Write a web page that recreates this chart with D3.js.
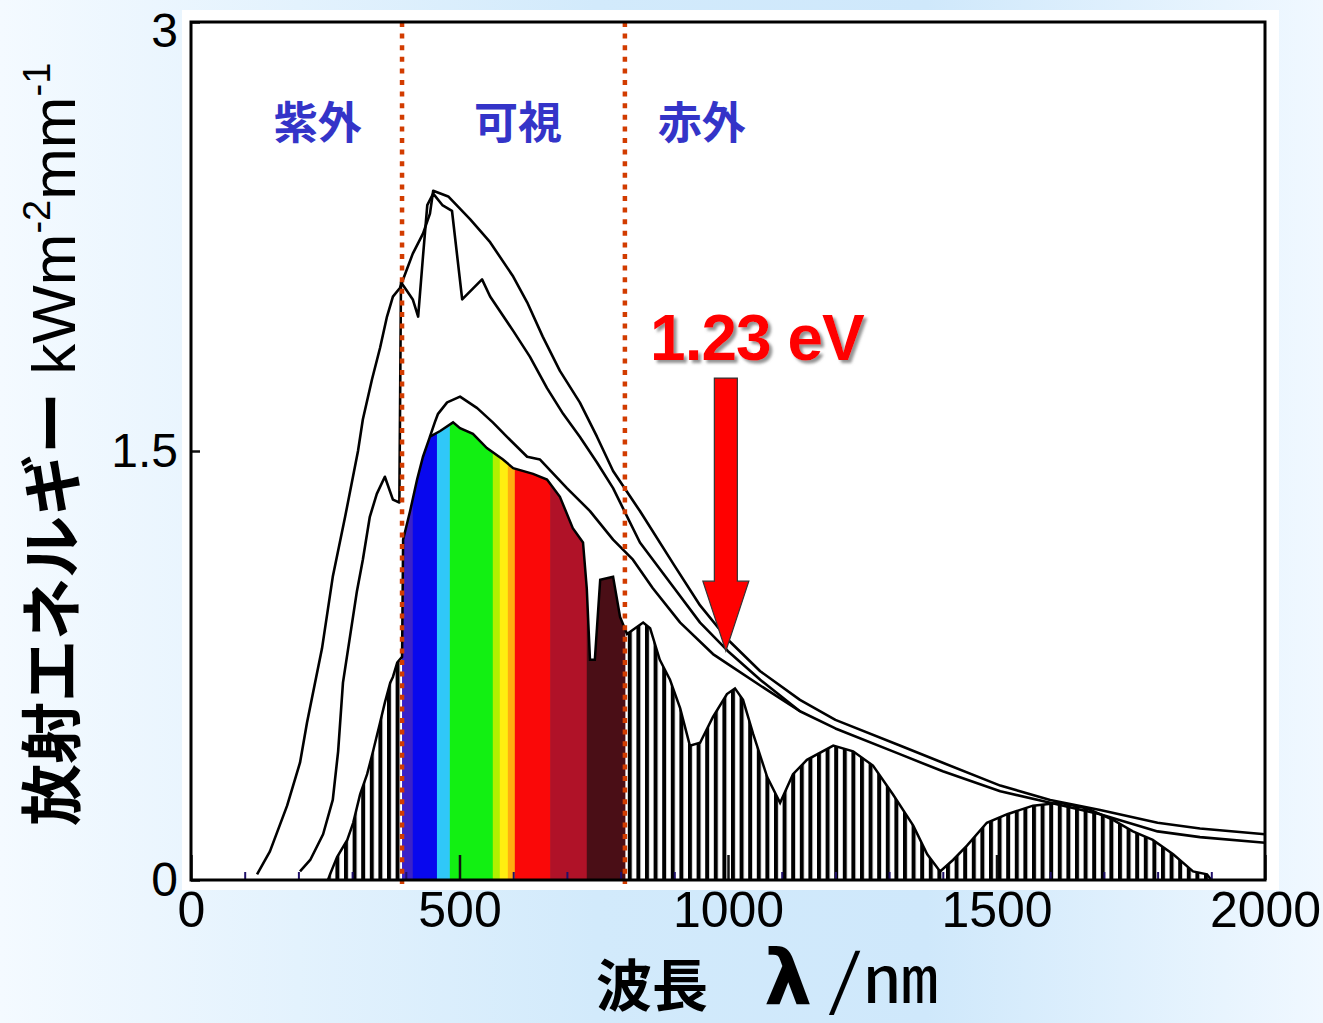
<!DOCTYPE html>
<html>
<head>
<meta charset="utf-8">
<script src="https://cdn.jsdelivr.net/npm/d3@7"></script>
<style>
  body { margin: 0; }
  svg { display: block; }
</style>
</head>
<body>
<div id="chart"></div>
<script>
// values: [wavelength nm, energy kW m-2 mm-1]
var xTicks = [0, 500, 1000, 1500, 2000];
var yTicks = [0, 1.5, 3];
var minorTicks = [100, 200, 300, 400, 600, 700, 800, 900, 1100, 1200, 1300, 1400, 1600, 1700, 1800, 1900];

// outer smooth curve
var outerCurve = [[123,0.02],[147,0.10],[179,0.26],[203,0.41],[216,0.55],[231,0.69],[244,0.81],[264,1.06],
  [287,1.27],[311,1.50],[320,1.61],[337,1.75],[352,1.86],[365,1.97],[376,2.04],[389,2.07],[413,2.19],
  [432,2.26],[445,2.33],[451,2.41],[479,2.39],[520,2.31],[557,2.23],[600,2.11],[626,2.02],[655,1.90],
  [687,1.78],[724,1.67],[756,1.55],[786,1.43],[836,1.29],[900,1.10],[948,0.96],[1000,0.84],[1060,0.73],
  [1134,0.63],[1200,0.56],[1320,0.47],[1400,0.41],[1507,0.33],[1600,0.28],[1693,0.245],[1800,0.20],
  [1879,0.18],[2000,0.16]];

// jagged curve (outside the atmosphere)
var middleCurve = [[203,0.03],[222,0.07],[246,0.16],[264,0.28],[274,0.45],[283,0.69],[296,0.85],[309,1.01],
  [320,1.12],[333,1.27],[346,1.35],[361,1.41],[376,1.33],[388,1.32],[391,2.09],[402,2.06],[413,2.03],
  [423,1.97],[432,2.18],[440,2.36],[451,2.40],[468,2.36],[486,2.34],[505,2.03],[542,2.10],[557,2.04],
  [600,1.92],[631,1.83],[663,1.72],[693,1.63],[724,1.55],[756,1.46],[786,1.37],[836,1.18],[900,1.02],
  [948,0.90],[1000,0.80],[1060,0.70],[1134,0.59],[1200,0.53],[1320,0.44],[1400,0.38],[1507,0.31],
  [1600,0.27],[1693,0.23],[1800,0.17],[1879,0.15],[2000,0.13]];

// arch just above the coloured band
var archCurve = [[445,1.55],[454,1.60],[460,1.63],[477,1.67],[501,1.69],[533,1.65],[562,1.60],[588,1.55],
  [626,1.48],[650,1.47],[700,1.37],[743,1.29],[786,1.19],[823,1.12],[860,1.02],[911,0.90],[972,0.79],
  [1000,0.755],[1060,0.68],[1134,0.59]];

// spectrum at the ground (filled)
var spectrumFill = [[255,0],[259,0.02],[272,0.08],[291,0.14],[302,0.20],[315,0.30],[328,0.37],[339,0.45],
  [352,0.55],[361,0.62],[371,0.69],[376,0.71],[384,0.76],[393,0.78],[395,1.19],[408,1.29],[421,1.40],
  [432,1.48],[445,1.55],[464,1.57],[488,1.60],[501,1.58],[525,1.56],[551,1.51],[581,1.47],[600,1.44],
  [637,1.42],[663,1.40],[687,1.34],[711,1.23],[730,1.18],[737,1.02],[743,0.77],[752,0.77],[762,1.05],
  [786,1.06],[799,0.92],[812,0.86],[842,0.90],[855,0.88],[873,0.77],[892,0.70],[911,0.60],[929,0.47],
  [948,0.48],[972,0.57],[998,0.65],[1013,0.67],[1028,0.63],[1047,0.51],[1073,0.36],[1097,0.27],
  [1121,0.37],[1147,0.42],[1196,0.47],[1233,0.45],[1270,0.40],[1307,0.30],[1345,0.19],[1371,0.09],
  [1395,0.03],[1419,0.07],[1445,0.12],[1482,0.20],[1520,0.23],[1568,0.26],[1618,0.27],[1669,0.25],
  [1717,0.21],[1754,0.17],[1791,0.14],[1829,0.09],[1866,0.03],[1892,0.02],[1900,0]];

// colour bands of the visible part
var bandEdges = [393, 413, 458, 482, 562, 575, 590, 603, 669, 737, 808];
var bandColors = ["#3a22c8", "#0808ee", "#30c8f8", "#12f012", "#b0f000", "#ffee10", "#ffae10",
  "#fa0808", "#b01228", "#4a0e16"];

var regionBounds = [393, 808];
var regionNames = ["紫外", "可視", "赤外"];
var regionNameNm = [236, 609, 951];

var arrowTip = [996, 0.80];
var arrowStart = 1.755;
var arrowLabel = "1.23 eV";

// -------------------------------------------------------------------------------
var svgWidth = 1323;
var svgHeight = 1023;

var svg = d3.select("#chart")
  .append("svg")
  .attr("width", svgWidth)
  .attr("height", svgHeight);

var x = d3.scaleLinear().domain([0, 2000]).range([191, 1265]);
var y = d3.scaleLinear().domain([0, 3]).range([880, 22]);

var defs = svg.append("defs");

var bg = defs.append("linearGradient")
  .attr("id", "bg")
  .attr("x1", 0).attr("x2", 1).attr("y1", 0).attr("y2", 0);
bg.append("stop").attr("offset", "0%").attr("stop-color", "#f4faff");
bg.append("stop").attr("offset", "45%").attr("stop-color", "#d2eafb");
bg.append("stop").attr("offset", "70%").attr("stop-color", "#cfe8fb");
bg.append("stop").attr("offset", "100%").attr("stop-color", "#f0f8ff");

var hatch = defs.append("pattern")
  .attr("id", "hatch")
  .attr("patternUnits", "userSpaceOnUse")
  .attr("width", 8.6)
  .attr("height", 20);
hatch.append("rect").attr("width", 8.6).attr("height", 20).attr("fill", "#fff");
hatch.append("rect").attr("width", 4).attr("height", 20).attr("fill", "#000");

var shadow = defs.append("filter").attr("id", "shadow")
  .attr("x", "-10%").attr("y", "-20%").attr("width", "130%").attr("height", "150%");
shadow.append("feDropShadow")
  .attr("dx", 3).attr("dy", 3).attr("stdDeviation", 1.5)
  .attr("flood-color", "#777").attr("flood-opacity", 0.8);

// background + white panel
svg.append("rect").attr("width", svgWidth).attr("height", svgHeight).attr("fill", "url(#bg)");
svg.append("rect").attr("x", 182).attr("y", 10).attr("width", 1097).attr("height", 880).attr("fill", "#fff");

var area = d3.area()
  .x(d => x(d[0]))
  .y0(y(0))
  .y1(d => y(d[1]));

var line = d3.line()
  .x(d => x(d[0]))
  .y(d => y(d[1]));

defs.append("clipPath").attr("id", "specClip")
  .append("path").attr("d", area(spectrumFill));

// filled spectrum: hatch everywhere, colours over the visible part
var spec = svg.append("g").attr("clip-path", "url(#specClip)");
spec.append("rect")
  .attr("x", x(0)).attr("y", y(3))
  .attr("width", x(2000) - x(0)).attr("height", y(0) - y(3))
  .attr("fill", "url(#hatch)");
spec.selectAll(".band")
  .data(bandColors)
  .enter()
  .append("rect")
  .attr("class", "band")
  .attr("x", (d, i) => x(bandEdges[i]))
  .attr("y", y(3))
  .attr("width", (d, i) => x(bandEdges[i + 1]) - x(bandEdges[i]) + 0.5)
  .attr("height", y(0) - y(3))
  .attr("fill", d => d);

svg.append("path")
  .attr("d", line(spectrumFill))
  .attr("fill", "none")
  .attr("stroke", "#000")
  .attr("stroke-width", 2.5);

// the three curves
[outerCurve, middleCurve, archCurve].forEach(function (c) {
  svg.append("path")
    .attr("d", line(c))
    .attr("fill", "none")
    .attr("stroke", "#000")
    .attr("stroke-width", 2.6)
    .attr("stroke-linejoin", "round");
});

// region borders
svg.selectAll(".bound")
  .data(regionBounds)
  .enter()
  .append("line")
  .attr("class", "bound")
  .attr("x1", d => x(d)).attr("x2", d => x(d))
  .attr("y1", y(3)).attr("y2", y(0) + 4)
  .attr("stroke", "#d23c00")
  .attr("stroke-width", 4.5)
  .attr("stroke-dasharray", "5,6.6");

svg.selectAll(".region")
  .data(regionNames)
  .enter()
  .append("text")
  .attr("class", "region")
  .attr("x", (d, i) => x(regionNameNm[i]))
  .attr("y", 139)
  .attr("text-anchor", "middle")
  .style("font-family", "'Noto Sans CJK JP', sans-serif")
  .style("font-weight", "bold")
  .style("font-size", "44px")
  .attr("fill", "#3434c8")
  .text(d => d);

// axes
var minorAxis = d3.axisBottom(x).tickValues(minorTicks).tickSize(-8).tickFormat("");
svg.append("g")
  .attr("transform", `translate(0, ${y(0)})`)
  .call(minorAxis)
  .call(g => g.select(".domain").remove())
  .call(g => g.selectAll("line").attr("stroke", "#20106a").attr("stroke-width", 2));

var bottomAxis = d3.axisBottom(x).tickValues(xTicks).tickSize(-25).tickPadding(11)
  .tickFormat(d3.format("d"));
svg.append("g")
  .attr("transform", `translate(0, ${y(0)})`)
  .call(bottomAxis)
  .call(g => g.select(".domain").remove())
  .call(g => g.selectAll("line").attr("stroke", "#111").attr("stroke-width", 2.5))
  .call(g => g.selectAll("text")
    .attr("fill", "#000")
    .style("font-family", "'Liberation Sans', Arial, sans-serif")
    .style("font-size", "50px"));

var leftAxis = d3.axisLeft(y).tickValues(yTicks).tickSize(-9).tickPadding(13)
  .tickFormat(d => d === 1.5 ? "1.5" : d);
svg.append("g")
  .attr("transform", `translate(${x(0)}, 0)`)
  .call(leftAxis)
  .call(g => g.select(".domain").remove())
  .call(g => g.selectAll("line").attr("stroke", "#111").attr("stroke-width", 2.5))
  .call(g => g.selectAll("text")
    .attr("fill", "#000")
    .attr("dy", d => d === 3 ? "0.5em" : "0.32em")
    .style("font-family", "'Liberation Sans', Arial, sans-serif")
    .style("font-size", "48px"));

// frame
svg.append("rect")
  .attr("x", x(0)).attr("y", y(3))
  .attr("width", x(2000) - x(0)).attr("height", y(0) - y(3))
  .attr("fill", "none")
  .attr("stroke", "#000")
  .attr("stroke-width", 3);

// 1.23 eV arrow
var tipX = x(arrowTip[0]), tipY = y(arrowTip[1]), startY = y(arrowStart);
svg.append("path")
  .attr("d", `M${tipX - 11.5},${startY} L${tipX + 11.5},${startY} L${tipX + 11.5},${tipY - 70}
    L${tipX + 23},${tipY - 70} L${tipX},${tipY} L${tipX - 23},${tipY - 70} L${tipX - 11.5},${tipY - 70} Z`)
  .attr("fill", "#ff0000")
  .attr("stroke", "#333")
  .attr("stroke-width", 1.2);

svg.append("text")
  .attr("x", tipX + 31)
  .attr("y", startY - 18)
  .attr("text-anchor", "middle")
  .attr("filter", "url(#shadow)")
  .style("font-family", "'Liberation Sans', Arial, sans-serif")
  .style("font-weight", "bold")
  .style("font-size", "64px")
  .style("letter-spacing", "-1px")
  .attr("fill", "#ff0000")
  .text(arrowLabel);

// axis titles
var yTitle = svg.append("text")
  .attr("transform", "translate(75, 826) rotate(-90)")
  .attr("text-anchor", "start")
  .attr("fill", "#000");
yTitle.append("tspan")
  .style("font-family", "'Noto Sans CJK JP', sans-serif")
  .style("font-weight", "bold")
  .style("font-size", "62px")
  .text("放射エネルギー");
yTitle.append("tspan")
  .style("font-family", "'Liberation Sans', Arial, sans-serif")
  .style("font-size", "62px")
  .text(" kWm");
yTitle.append("tspan")
  .attr("dy", -25)
  .style("font-family", "'Liberation Sans', Arial, sans-serif")
  .style("font-size", "38px")
  .text("-2");
yTitle.append("tspan")
  .attr("dy", 25)
  .style("font-family", "'Liberation Sans', Arial, sans-serif")
  .style("font-size", "62px")
  .text("mm");
yTitle.append("tspan")
  .attr("dy", -25)
  .style("font-family", "'Liberation Sans', Arial, sans-serif")
  .style("font-size", "38px")
  .text("-1");

svg.append("text")
  .attr("x", 596).attr("y", 1006)
  .style("font-family", "'Noto Sans CJK JP', sans-serif")
  .style("font-weight", "bold")
  .style("font-size", "56px")
  .attr("fill", "#000")
  .text("波長");
svg.append("text")
  .attr("x", 764).attr("y", 1004)
  .style("font-family", "'DejaVu Sans', sans-serif")
  .style("font-weight", "bold")
  .style("font-size", "76px")
  .attr("fill", "#000")
  .text("λ");
svg.append("text")
  .attr("x", 826).attr("y", 1003)
  .attr("textLength", 112)
  .attr("lengthAdjust", "spacingAndGlyphs")
  .style("font-family", "'Noto Sans Mono CJK JP', 'DejaVu Sans Mono', monospace")
  .style("font-size", "66px")
  .attr("fill", "#000")
  .text("/nm");
</script>
</body>
</html>
